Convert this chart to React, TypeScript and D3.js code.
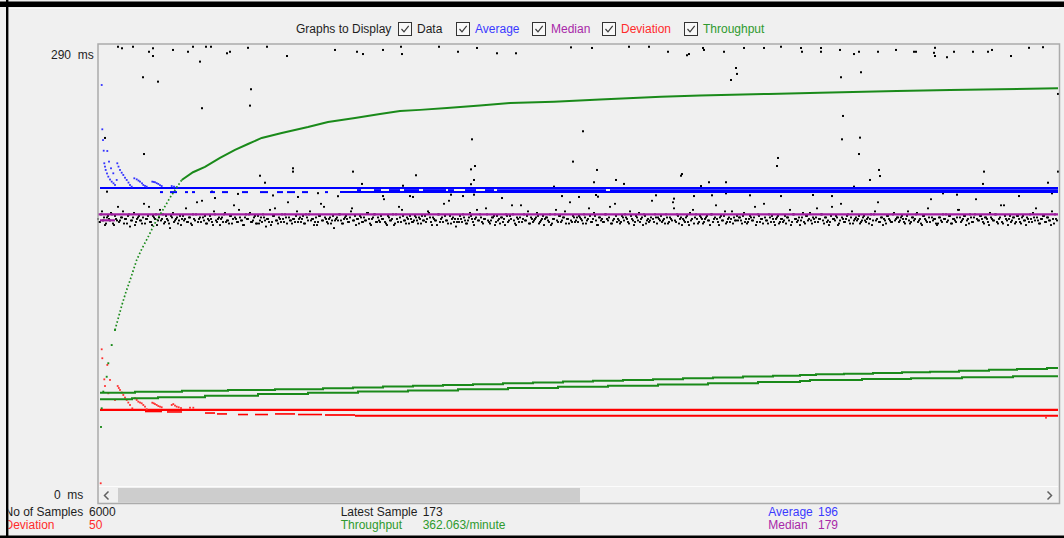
import React from 'react';
import * as d3 from 'd3';

// JMeter "Graph Results" panel — response-time plot with running
// average / median / deviation / throughput and the summary rows below.

type Pt = [number, number];

const W = 1064;
const H = 538;
const PLOT = { left: 98, right: 1058, top: 46, bottom: 486 };
const FONT = "'Liberation Sans', Arial, sans-serif";

const Y_MAX_MS = 290;
const VISIBLE_SAMPLES = 960;
const Y_LABELS = [290, 0];

const COL = {
  text: '#1e1e1e',
  data: '#000000',
  average: '#0000ff',
  median: '#a21ca2',
  deviation: '#ff0000',
  throughput: '#1a8a1a',
};

const LEGEND = [
  { label: 'Data', color: '#1e1e1e' },
  { label: 'Average', color: '#3a3aff' },
  { label: 'Median', color: '#a828a8' },
  { label: 'Deviation', color: '#ff2b2b' },
  { label: 'Throughput', color: '#2e9a2e' },
];
const LEGEND_BOX_X = [398.5, 456.5, 532.5, 602.5, 684.5];

const STAT_ROWS = [
  [
    { label: 'No of Samples', value: '6000', color: '#1e1e1e' },
    { label: 'Latest Sample', value: '173', color: '#1e1e1e' },
    { label: 'Average', value: '196', color: '#3a3aff' },
  ],
  [
    { label: 'Deviation', value: '50', color: '#ff2b2b' },
    { label: 'Throughput', value: '362.063/minute', color: '#2e9a2e' },
    { label: 'Median', value: '179', color: '#a828a8' },
  ],
];
const STAT_COLS = [
  { label: 4.5, value: 89 },
  { label: 340.7, value: 422.7 },
  { label: 768.3, value: 818 },
];

// response times (ms) of the dense band, even sample columns
const BAND_A = [
  176,174,181,177,173,178,175,179,172,176,184,175,177,173,176,178,171,175,180,174,
  177,175,173,186,176,178,174,172,177,179,175,182,176,173,178,175,170,177,174,176,
  173,178,176,175,183,174,177,172,176,179,174,177,188,175,173,176,178,174,181,175,
  176,172,177,179,174,175,178,173,185,176,174,177,175,172,179,176,180,174,177,173,
  178,175,174,177,171,176,182,174,178,175,173,176,179,174,177,187,175,173,176,178,
  174,177,176,173,179,175,181,176,172,177,174,178,175,184,176,173,177,175,170,176,
  175,179,173,176,178,174,177,183,175,172,176,178,174,177,175,180,173,176,179,174,
  177,174,176,189,173,178,175,176,172,179,174,177,182,175,173,176,178,174,175,177,
  173,176,178,175,174,181,177,172,176,175,179,174,177,186,175,173,178,176,174,171,
  176,178,174,177,173,175,180,176,172,177,175,179,174,176,183,175,173,177,178,174,
  175,173,177,176,179,174,178,185,175,172,176,177,174,179,175,181,173,176,175,177,
  178,174,176,172,177,175,179,173,176,182,174,178,175,177,173,176,187,174,177,175,
  174,177,175,179,173,176,178,174,180,175,172,177,176,174,179,175,184,173,176,178,
  176,173,178,175,177,174,181,176,172,178,175,174,177,179,173,176,175,188,174,177,
  177,175,174,176,179,173,177,175,183,174,178,176,172,175,177,174,180,176,173,179,
  173,178,176,174,177,175,172,179,176,185,174,177,175,178,173,176,174,181,177,175,
  175,177,173,180,176,174,178,175,177,172,179,174,176,186,175,173,177,178,174,176,
  178,174,176,175,173,177,182,174,179,176,175,172,177,174,178,175,180,173,176,177,
  174,176,179,173,177,175,174,184,176,178,172,175,177,174,176,179,173,181,175,177,
  176,173,175,178,174,177,176,172,179,175,187,174,177,176,173,178,175,174,180,176,
  177,175,178,174,176,181,173,177,175,179,174,176,172,178,175,183,174,177,176,173,
  173,177,174,176,179,175,178,173,176,174,182,177,175,178,172,176,179,174,177,189,
  175,178,176,173,177,174,180,176,175,179,173,177,174,185,176,172,178,175,177,174,
  178,174,177,175,172,176,179,174,177,183,175,173,176,178,174,177,175,181,173,176,
];

// response times (ms) of the dense band, odd sample columns
const BAND_B = [
  174,179,175,172,177,176,180,173,178,175,174,177,181,176,173,179,175,177,172,176,
  178,175,177,173,176,184,174,178,176,172,177,175,179,174,176,173,178,180,175,177,
  175,172,178,176,174,177,173,179,175,187,176,174,177,178,173,175,176,172,179,174,
  177,176,174,180,175,173,178,176,177,174,182,175,172,177,176,179,174,175,178,173,
  173,177,179,175,176,174,172,178,183,175,177,174,176,179,173,177,175,176,174,181,
  176,174,178,173,177,179,175,176,174,172,178,186,175,177,174,176,173,178,175,177,
  179,175,173,177,176,174,181,175,178,176,173,177,174,175,180,176,172,177,179,174,
  175,178,176,174,172,177,175,179,173,176,184,174,178,175,177,173,176,174,178,175,
  177,173,175,178,176,180,174,177,175,172,179,176,174,178,175,188,173,177,176,174,
  174,176,179,175,173,177,178,174,176,182,175,177,173,176,179,174,175,177,172,178,
  176,177,174,172,178,175,176,179,173,177,174,185,176,175,178,173,177,174,176,180,
  173,175,178,176,177,174,172,176,179,175,178,174,177,181,176,173,175,178,174,177,
  178,176,173,177,175,183,174,176,178,172,177,175,174,179,176,177,173,175,186,174,
  175,174,177,179,176,173,178,175,174,177,180,176,172,178,175,174,177,176,179,173,
  176,178,175,173,177,174,176,187,175,179,173,177,176,174,178,172,175,182,177,176,
  174,177,173,176,178,175,179,174,177,176,172,178,175,181,174,177,176,173,175,178,
  177,175,178,174,173,176,177,175,184,174,178,176,173,177,175,179,174,176,172,177,
  173,176,174,178,177,175,172,179,176,174,177,175,180,173,178,176,175,177,174,183,
  176,179,175,177,174,172,178,176,175,177,173,186,176,174,178,175,177,173,176,175,
  178,174,177,175,176,173,179,175,181,176,174,177,172,175,178,176,174,179,175,177,
  174,177,176,173,178,175,174,177,176,180,175,173,178,176,174,177,189,175,176,172,
  177,175,179,176,174,178,173,176,175,177,182,174,176,178,175,173,177,174,179,176,
  175,178,174,177,176,172,177,175,179,174,176,185,173,178,175,176,174,177,173,178,
  176,173,178,175,177,174,176,180,175,177,173,176,178,174,177,175,172,176,179,175,
];

// sparse samples away from the band: [sample column, ms]
const OUTLIERS: Pt[] = [
  [20,289.5],[24,288.5],[35,289.5],[51,286.2],[55,288.5],[55,283.4],[75,287.4],[90,286.2],
  [95,289.5],[108,289.5],[113,289.5],[102,279.7],[129,285.2],[132,286.2],[150,288.8],[169,289.5],
  [189,283.4],[237,287.4],[259,286.2],[265,284.7],[285,287.4],[303,289.5],[304,284.7],[341,289.5],
  [360,286.2],[379,288.7],[399,285.2],[418,285.2],[473,289.1],[494,288.7],[531,289.5],[551,289.5],
  [570,286.2],[589,283.9],[591,284.7],[605,288.7],[606,287.4],[626,286.2],[646,288.7],[666,288.7],
  [683,289.5],[703,288.7],[704,286.2],[723,288.7],[723,286.2],[742,287.4],[756,284.7],[761,286.2],
  [780,286.2],[798,287.4],[816,286.2],[818,286.2],[837,288.8],[836,285.5],[837,283.4],[849,282.6],
  [856,286.2],[875,286.2],[890,286.2],[894,287.4],[913,283.4],[931,288.8],[945,289.2],[960,258.4],
  [45,269.4],[60,266.5],[153,261.5],[152,250.7],[104,249],[46,218.8],[7,229.4],[195,209.4],
  [195,207.2],[162,204.5],[167,199.9],[255,207.2],[9,194],[638,275.5],[639,271.6],[633,267.6],
  [763,272.7],[743,269.4],[745,243.9],[744,228.5],[762,229.6],[761,218.8],[680,216.2],[679,210.9],
  [485,233.8],[475,213.8],[374,228.5],[377,210.9],[373,208.7],[376,201.7],[373,198.9],[499,208.3],
  [496,200.2],[518,201.7],[526,199.1],[584,205.6],[583,204.5],[611,200.2],[628,200.2],[603,197.7],
  [781,208.3],[782,204.3],[772,201.7],[756,197.3],[318,204.8],[305,197.9],[264,199.1],[886,207.2],
  [885,199.1],[950,199.9],[960,207.2],
  [285,191.1],[312,191.1],[315,190.5],[353,192.0],[365,191.1],[376,192.0],[404,189.8],[446,193.8],
  [456,197.3],[464,191.1],[481,190.5],[498,191.8],[500,190.7],[558,191.6],[576,189.4],[596,191.1],
  [614,191.6],[628,192.9],[652,191.6],[683,191.1],[715,191.8],[734,191.1],[845,192.9],[859,192.0],
  [921,191.1],[954,192.9],[114,194],[117,189.8],[140,192.5],[175,191.5],[200,190.5],[220,193],
  [240,191],
];

// early running-average values while it settles: [sample column, ms]
const AVG_EARLY: Pt[] = [
  [3.7,264.3],[4.3,235.1],[5,228],[5.7,221],[6.3,212.7],[7,210.5],[7.7,208.3],[9,206],[10.3,203.9],
  [12,202],[13.7,200.6],[15.5,199.5],[17,198.4],
  [9.3,220.8],[11,213.8],[13,209.4],[15.3,206.1],[18.7,201.7],
  [19.3,212.7],[20.5,210.5],[22,208.3],[23.7,206.5],[25.3,205],[27,203.2],[28.7,201.7],[30.5,200],
  [32,198.4],[33.7,197.3],
  [36.3,202.8],[38.7,202.1],[40.5,201.3],[42,200.6],[44,199.5],[45.3,198.4],[47,197.8],[48.7,197.3],
  [54.3,200.6],[55.7,200.4],[57,200.2],[58.7,199.6],[60.3,199.1],[62,198.3],[63.7,197.7],
  [73.7,197.7],[76,197.3],[78.7,196.9],
];

// settled average traces: ms level with [from, to] sample spans
const AVG_TRACKS = [
  { ms: 196.4, spans: [[2, 960]] },
  { ms: 195.0, spans: [[259,263],[276,283],[291,302],[306,321],[325,348],[350,356],[367,378],[387,396],[399,508],[512,960]] },
  { ms: 193.7, spans: [[62,65],[72,79],[87,90],[94,97],[112,117],[124,130],[144,150],[162,170],[179,185],[189,197],[204,210],[227,230],[242,960]] },
];

const MEDIAN_TRACKS = [
  { ms: 179, spans: [[0, 960]] },
  { ms: 175.1, spans: [[2, 17]] },
];

// early deviation values: [sample column, ms]
const DEV_EARLY: Pt[] = [
  [2.7,1.8],[3.7,90.1],[4.3,84.2],[9.3,79.8],[6.3,70.3],[7,65.9],[12,69.9],[10.3,61.1],[17,56.7],
  [19.7,65.9],[20.8,64.6],[22,63.3],[23.7,61.6],[25.3,60],[27,58.3],[28.7,56.7],[30.3,55],[32,53.4],
  [34.3,51.2],
  [37,57.8],[38.7,56.7],[40.3,55.6],[42,55],[43.7,54.5],[45.3,53.4],[47,52.3],[48.7,50.6],
  [54.3,54.9],[55.7,54.5],[57,54],[58.7,53.4],[60.3,52.7],[62,52.3],[63.7,51.9],
  [73.7,53.4],[75.3,54],[77,53],[78.7,52.3],[80.7,51.9],[83,51.4],[92,51.6],[95.3,51.6],[948,45.0],
];

const DEV_TRACKS = [
  { ms: 50.2, width: 2.4, spans: [[2, 960]] },
  { ms: 49.1, width: 1.6, spans: [[47, 64]] },
  { ms: 48.8, width: 1.6, spans: [[69, 84]] },
  { ms: 48.1, width: 1.6, spans: [[107, 117]] },
  { ms: 47.5, width: 1.6, spans: [[119, 129], [177, 197]] },
  { ms: 47.1, width: 1.6, spans: [[140, 150], [157, 170], [200, 224]] },
  { ms: 46.8, width: 1.7, spans: [[227, 257]] },
  { ms: 46.3, width: 1.8, spans: [[257, 960]] },
];

// throughput curve, drawn on the ms scale: [sample column, ms]
const THROUGHPUT: Pt[] = [
  [3,38.9],[3.7,51.2],[5.3,62.2],[8.7,72.0],[10.3,80.9],[13.7,92.9],[17,102.8],[20,110.0],[24,119.5],
  [28,128.0],[32,135.5],[38.7,149.0],[44,156.5],[50,164.0],[57,173.3],[64,181.0],[72,190.0],
  [83.7,201.7],[95,206.8],[107,210.3],[122,216.2],[137,221.5],[150,225.4],[163.7,229.4],[183.7,232.7],
  [210,236.6],[230,239.9],[257,242.6],[282,245.2],[302,247.2],[322,247.9],[349,249.1],[382,250.8],
  [412,252.4],[456,253.3],[502,254.7],[563,256.6],[602,257.4],[670.6,258.4],[722,259.2],[799,260.3],
  [852,261.0],[902,261.5],[960,262.1],
];

// the two slow throughput traces near the bottom (step levels)
const TP_UPPER: Pt[] = [
  [2,61.5],[37,62.2],[84,62.8],[130,63.3],[177,63.7],[225,64.4],[255,64.9],[285,65.5],[315,66.0],
  [345,66.6],[375,67.1],[405,67.7],[435,68.2],[465,68.8],[495,69.3],[525,69.9],[555,70.4],[585,71.0],
  [615,71.5],[645,72.1],[675,72.6],[702,73.2],[718,73.6],[746,74.0],[775,74.5],[804,74.9],[832,75.3],
  [861,76.0],[891,76.6],[919,77.1],[949,77.8],
];
const TP_LOWER: Pt[] = [
  [2,57.2],[34,57.8],[60,58.5],[107,59.5],[160,60.6],[210,61.5],[260,62.3],[310,63.0],[360,63.8],
  [410,64.6],[460,65.4],[510,66.1],[560,66.9],[610,67.7],[660,68.5],[702,69.2],[712,69.9],[764,70.5],
  [813,71.0],[864,71.6],[915,72.3],
];

export default function App() {
  const x = d3.scaleLinear().domain([0, VISIBLE_SAMPLES]).range([PLOT.left, PLOT.right]);
  const y = d3.scaleLinear().domain([0, Y_MAX_MS]).range([PLOT.bottom, PLOT.top]);

  const band: Pt[] = [
    ...BAND_A.map((v, i) => [i * 2, v] as Pt),
    ...BAND_B.map((v, i) => [i * 2 + 1, v] as Pt),
  ];

  const line = d3.line<Pt>().x((d) => x(d[0])).y((d) => y(d[1]));
  const step = d3
    .line<Pt>()
    .x((d) => x(d[0]))
    .y((d) => y(d[1]))
    .curve(d3.curveStepAfter);
  const toEnd = (pts: Pt[]): Pt[] => [...pts, [VISIBLE_SAMPLES, pts[pts.length - 1][1]]];

  const tpDots = THROUGHPUT.filter((d) => d[0] <= 17);
  const tpDotted = THROUGHPUT.filter((d) => d[0] >= 17 && d[0] <= 84);
  const tpSolid = THROUGHPUT.filter((d) => d[0] >= 83);

  const dot = (key: string, d: Pt, fill: string, w = 1.6, h = w) => (
    <rect key={key} x={x(d[0]) - w / 2} y={y(d[1]) - h / 2} width={w} height={h} fill={fill} />
  );

  const tracks = (prefix: string, list: any[], color: string, width: number) =>
    list.flatMap((t, ti) =>
      t.spans.map((s: number[], si: number) => (
        <line
          key={`${prefix}-${ti}-${si}`}
          x1={x(s[0])}
          x2={x(s[1])}
          y1={y(t.ms)}
          y2={y(t.ms)}
          stroke={color}
          strokeWidth={t.width ?? width}
        />
      )),
    );

  return (
    <div style={{ position: 'absolute', left: 0, top: 0, width: W, height: H }}>
      <svg width={W} height={H} viewBox={`0 0 ${W} ${H}`} style={{ display: 'block', fontFamily: FONT }}>
        <defs>
          <clipPath id="statsClip">
            <rect x={8.4} y={504} width={W} height={34} />
          </clipPath>
        </defs>
        <rect x={0} y={0} width={W} height={H} fill="#f0f0f0" />
        <line x1={9} x2={1059} y1={8.5} y2={8.5} stroke="#fafafa" strokeWidth={1} />

        {/* legend */}
        <text x={296} y={32.5} fontSize={12} fill={COL.text}>
          Graphs to Display
        </text>
        {LEGEND.map((item, i) => {
          const bx = LEGEND_BOX_X[i];
          return (
            <g key={item.label}>
              <rect x={bx} y={22.5} width={13} height={13} fill="#f8f8f8" stroke="#333" strokeWidth={1} />
              <path
                d={`M${bx + 3},${29} L${bx + 5.5},${31.8} L${bx + 10.2},${25.8}`}
                fill="none"
                stroke="#3a3a3a"
                strokeWidth={1.2}
              />
              <text x={bx + 18.5} y={32.5} fontSize={12} fill={item.color}>
                {item.label}
              </text>
            </g>
          );
        })}

        {/* data samples */}
        <g>
          {band.map((d, i) => dot(`b${i}`, d, COL.data, 2, 1.8))}
          {OUTLIERS.map((d, i) => dot(`o${i}`, d, COL.data, 2, 2))}
        </g>

        {/* average */}
        <g>
          {tracks('avg', AVG_TRACKS, COL.average, 2)}
          {AVG_EARLY.map((d, i) => dot(`a${i}`, d, '#3030ff', 1.8))}
        </g>

        {/* median */}
        <g>{tracks('med', MEDIAN_TRACKS, COL.median, 2.2)}</g>

        {/* deviation */}
        <g>
          {tracks('dev', DEV_TRACKS, COL.deviation, 2)}
          {DEV_EARLY.map((d, i) => dot(`d${i}`, d, '#ff3030', 1.8))}
        </g>

        {/* throughput */}
        <g fill="none" stroke={COL.throughput}>
          <path d={step(toEnd(TP_UPPER)) ?? ''} strokeWidth={2} />
          <path d={step(toEnd(TP_LOWER)) ?? ''} strokeWidth={2} />
          <path d={line(tpDotted) ?? ''} strokeWidth={1.7} strokeDasharray="1.6 2.2" />
          <path d={line(tpSolid) ?? ''} strokeWidth={2} />
        </g>
        {tpDots.map((d, i) => dot(`t${i}`, d, COL.throughput, 1.9))}

        {/* plot frame + horizontal scrollbar */}
        <line x1={PLOT.left + 1} x2={PLOT.right} y1={486.5} y2={486.5} stroke="#fcfcfc" strokeWidth={1} />
        <rect x={118} y={488} width={462} height={14.5} fill="#cdcdcd" />
        <path d="M108.5,491.5 L104.5,495.5 L108.5,499.5" fill="none" stroke="#606060" strokeWidth={1.5} />
        <path d="M1047.5,491.5 L1051.5,495.5 L1047.5,499.5" fill="none" stroke="#606060" strokeWidth={1.5} />
        <rect
          x={PLOT.left}
          y={44}
          width={PLOT.right - PLOT.left + 1.5}
          height={503.5 - 44}
          fill="none"
          stroke="#ababab"
          strokeWidth={1.5}
        />

        {/* y labels */}
        {Y_LABELS.map((v) => (
          <text
            key={v}
            x={v === 0 ? 54 : 51}
            y={y(v) + (v === 0 ? 12.5 : 13)}
            fontSize={12}
            fill={COL.text}
            xmlSpace="preserve"
            style={{ whiteSpace: 'pre' }}
          >
            {`${v}  ms`}
          </text>
        ))}

        {/* summary rows */}
        <g clipPath="url(#statsClip)">
          {STAT_ROWS.map((row, ri) =>
            row.map((s, ci) => (
              <g key={`${ri}-${ci}`}>
                <text x={STAT_COLS[ci].label} y={516 + ri * 13} fontSize={12} fill={s.color}>
                  {s.label}
                </text>
                <text x={STAT_COLS[ci].value} y={516 + ri * 13} fontSize={12} fill={s.color}>
                  {s.value}
                </text>
              </g>
            )),
          )}
        </g>

        {/* screenshot edges */}
        <rect x={0} y={1.5} width={W} height={5.5} fill="#000" />
        <rect x={6} y={0} width={2.4} height={H} fill="#000" />
        <rect x={0} y={535.5} width={W} height={2.5} fill="#000" />
      </svg>
    </div>
  );
}
